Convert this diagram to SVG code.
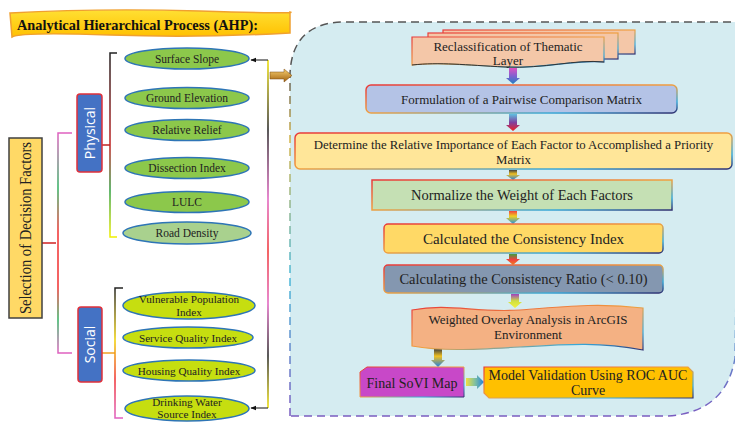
<svg xmlns="http://www.w3.org/2000/svg" width="735" height="424" viewBox="0 0 735 424">
<defs>
<linearGradient id="titleG" x1="0" y1="0" x2="0" y2="1"><stop offset="0" stop-color="#ffe033"/><stop offset="1" stop-color="#ffc000"/></linearGradient>
<linearGradient id="contStroke" gradientUnits="userSpaceOnUse" x1="0" y1="22" x2="0" y2="416"><stop offset="0" stop-color="#555"/><stop offset="0.12" stop-color="#555"/><stop offset="0.3" stop-color="#d4b44a"/><stop offset="0.65" stop-color="#4ab8d8"/><stop offset="1" stop-color="#7a5cc0"/></linearGradient>
<linearGradient id="border" x1="0" y1="0" x2="1" y2="1"><stop offset="0" stop-color="#e83a3a"/><stop offset="0.5" stop-color="#f0a040"/><stop offset="0.8" stop-color="#38a8d8"/><stop offset="1" stop-color="#303070"/></linearGradient>
<linearGradient id="arrG1" x1="0" y1="0" x2="0" y2="1"><stop offset="0" stop-color="#e050c0"/><stop offset="0.5" stop-color="#8060d0"/><stop offset="1" stop-color="#2080c0"/></linearGradient>
<linearGradient id="arrG2" x1="0" y1="0" x2="0" y2="1"><stop offset="0" stop-color="#60c0e0"/><stop offset="0.5" stop-color="#8040a0"/><stop offset="1" stop-color="#f02020"/></linearGradient>
<linearGradient id="arrG3" x1="0" y1="0" x2="0" y2="1"><stop offset="0" stop-color="#f04040"/><stop offset="0.4" stop-color="#f0d020"/><stop offset="1" stop-color="#2090e0"/></linearGradient>
<linearGradient id="arrG4" x1="0" y1="0" x2="0" y2="1"><stop offset="0" stop-color="#40a040"/><stop offset="0.5" stop-color="#f04040"/><stop offset="1" stop-color="#f08020"/></linearGradient>
<linearGradient id="arrG5" x1="0" y1="0" x2="0" y2="1"><stop offset="0" stop-color="#a040c0"/><stop offset="0.5" stop-color="#d0e040"/><stop offset="1" stop-color="#f0f040"/></linearGradient>
<linearGradient id="arrG6" x1="0" y1="0" x2="0" y2="1"><stop offset="0" stop-color="#404040"/><stop offset="0.4" stop-color="#f0c020"/><stop offset="1" stop-color="#2080e0"/></linearGradient>
<linearGradient id="arrH" x1="0" y1="0" x2="1" y2="0"><stop offset="0" stop-color="#f0e040"/><stop offset="0.5" stop-color="#80c0a0"/><stop offset="1" stop-color="#2080e0"/></linearGradient>
<linearGradient id="goldArr" x1="0" y1="0" x2="0" y2="1"><stop offset="0" stop-color="#f8d070"/><stop offset="1" stop-color="#a06010"/></linearGradient>
<linearGradient id="rightLine" gradientUnits="userSpaceOnUse" x1="0" y1="60" x2="0" y2="408"><stop offset="0" stop-color="#f0e000"/><stop offset="0.2" stop-color="#222"/><stop offset="0.4" stop-color="#e060c0"/><stop offset="0.55" stop-color="#f03030"/><stop offset="0.7" stop-color="#e060c0"/><stop offset="0.85" stop-color="#222"/><stop offset="1" stop-color="#f0e000"/></linearGradient>
<linearGradient id="braceSel" gradientUnits="userSpaceOnUse" x1="0" y1="133" x2="0" y2="353"><stop offset="0" stop-color="#e060c0"/><stop offset="0.25" stop-color="#30b060"/><stop offset="0.45" stop-color="#f03030"/><stop offset="0.7" stop-color="#f03030"/><stop offset="0.85" stop-color="#30b060"/><stop offset="1" stop-color="#e060c0"/></linearGradient>
<linearGradient id="bracePhy" gradientUnits="userSpaceOnUse" x1="0" y1="53" x2="0" y2="237"><stop offset="0" stop-color="#222"/><stop offset="0.5" stop-color="#c02020"/><stop offset="0.75" stop-color="#30a040"/><stop offset="1" stop-color="#f0f000"/></linearGradient>
<linearGradient id="braceSoc" gradientUnits="userSpaceOnUse" x1="0" y1="288" x2="0" y2="418"><stop offset="0" stop-color="#222"/><stop offset="0.4" stop-color="#f0d000"/><stop offset="0.7" stop-color="#f03030"/><stop offset="1" stop-color="#e060c0"/></linearGradient>
<marker id="ah" viewBox="0 0 10 10" refX="9" refY="5" markerWidth="6" markerHeight="6" orient="auto-start-reverse"><path d="M0,1 L10,5 L0,9 Z" fill="#111"/></marker>
<style>
.t{font-family:"Liberation Serif","Times New Roman",serif;fill:#222;text-anchor:middle}
.ep{fill:#8cc84b;stroke:#2e75b6;stroke-width:1.5}
.es{fill:#c6de10;stroke:#2e75b6;stroke-width:1.5}
.cat{fill:#4472c4;stroke:#e0303a;stroke-width:1.5}
.cl{font-family:"Open Sans","Liberation Sans",sans-serif;fill:#fff;font-size:14px;text-anchor:middle}
.bx{stroke:url(#border);stroke-width:1.5}
</style>
</defs>

<!-- Container -->
<path d="M290,416 L290,74 Q292,22 345,22 L740,22 L735,358 Q726,412 668,416 Z" fill="#d5ecf1" stroke="url(#contStroke)" stroke-width="1.5" stroke-dasharray="8 5"/>

<!-- Title -->
<g id="title">
<path d="M10,13 Q100,8 200,11 T290,12 L290,33 Q200,38 110,35 T12,37 Z" fill="url(#titleG)" stroke="#f0a030" stroke-width="1.5"/>
<text x="17" y="30" font-family="'Liberation Serif','Times New Roman',serif" font-weight="bold" font-size="15" fill="#111" textLength="241" lengthAdjust="spacingAndGlyphs">Analytical Hierarchical Process (AHP):</text>
</g>

<g id="connectors" fill="none">
<path d="M42,243 H56" stroke="#d02020" stroke-width="1.5"/>
<path d="M72,133 H58 V353 H72" stroke="url(#braceSel)" stroke-width="1.5"/>
<path d="M102,145 H110" stroke="#c02020" stroke-width="1.5"/>
<path d="M117,53 H110 V237 H117" stroke="url(#bracePhy)" stroke-width="1.5"/>
<path d="M102,353 H115" stroke="#f0a020" stroke-width="1.5"/>
<path d="M123,288 H115 V418 H123" stroke="url(#braceSoc)" stroke-width="1.5"/>
<path d="M268,60 V408" stroke="url(#rightLine)" stroke-width="1.5"/>
<path d="M268,60 H251" stroke="#111" stroke-width="1" marker-end="url(#ah)"/>
<path d="M268,408 H251" stroke="#111" stroke-width="1" marker-end="url(#ah)"/>
<polygon points="270,72 284,72 284,69 292,75.5 284,82 284,79 270,79" fill="url(#goldArr)" stroke="#7a4a10" stroke-width="0.5"/>
<polygon points="509,68 517,68 517,78 520,78 513,84 506,78 509,78" fill="url(#arrG1)"/>
<polygon points="509,114 517,114 517,125 520,125 513,131 506,125 509,125" fill="url(#arrG2)"/>
<polygon points="509,170 517,170 517,175 520,175 513,180 506,175 509,175" fill="url(#arrG6)"/>
<polygon points="509,211 517,211 517,218 520,218 513,224 506,218 509,218" fill="url(#arrG3)"/>
<polygon points="509,254 517,254 517,259 520,259 513,265 506,259 509,259" fill="url(#arrG4)"/>
<polygon points="511,294 519,294 519,302 522,302 515,308 508,302 511,302" fill="url(#arrG5)"/>
<polygon points="434,349 442,349 442,360 445,360 438,367 431,360 434,360" fill="url(#arrG6)"/>
<polygon points="466,378 477,378 477,375 484,382 477,389 477,386 466,386" fill="url(#arrH)"/>
</g>

<g id="selection">
<rect x="9" y="138" width="33" height="180" fill="#ffd966" stroke="#404040" stroke-width="1.5"/>
<text class="t" transform="translate(31,228) rotate(-90)" font-size="16" fill="#222" textLength="172" lengthAdjust="spacingAndGlyphs">Selection of Decision Factors</text>
</g>

<g id="physical">
<rect class="cat" x="77" y="94" width="25" height="78" rx="3"/>
<text class="cl" transform="translate(94.5,133) rotate(-90)">Physical</text>
</g>
<g id="social">
<rect class="cat" x="78" y="307" width="24" height="75" rx="3"/>
<text class="cl" transform="translate(95,344.5) rotate(-90)">Social</text>
</g>

<g id="surface-slope"><ellipse class="ep" cx="187" cy="58.5" rx="62" ry="10.5"/><text class="t" x="187" y="62.5" font-size="11.5">Surface Slope</text></g>
<g id="ground-elevation"><ellipse class="ep" cx="187" cy="98" rx="62" ry="10.5"/><text class="t" x="187" y="102" font-size="11.5">Ground Elevation</text></g>
<g id="relative-relief"><ellipse class="ep" cx="187" cy="130" rx="62" ry="10.5"/><text class="t" x="187" y="134" font-size="11.5">Relative Relief</text></g>
<g id="dissection-index"><ellipse class="ep" cx="187" cy="168" rx="62" ry="10.5"/><text class="t" x="187" y="172" font-size="11.5">Dissection Index</text></g>
<g id="lulc"><ellipse class="ep" cx="187" cy="202" rx="62" ry="10.5"/><text class="t" x="187" y="206" font-size="11.5">LULC</text></g>
<g id="road-density"><ellipse cx="187" cy="233" rx="64" ry="11" fill="#a9d18e" stroke="#2e75b6" stroke-width="1.5"/><text class="t" x="187" y="237" font-size="11.5">Road Density</text></g>

<g id="vulnerable-population"><ellipse class="es" cx="189" cy="305.5" rx="66" ry="13.5"/><text class="t" x="189" y="303" font-size="11.2">Vulnerable Population</text><text class="t" x="189" y="315.5" font-size="11.2">Index</text></g>
<g id="service-quality"><ellipse class="es" cx="188" cy="337.5" rx="65" ry="10.5"/><text class="t" x="188" y="341.5" font-size="11.2">Service Quality Index</text></g>
<g id="housing-quality"><ellipse class="es" cx="189" cy="370.5" rx="66" ry="10.5"/><text class="t" x="189" y="374.5" font-size="11.2">Housing Quality Index</text></g>
<g id="drinking-water"><ellipse class="es" cx="187" cy="408.5" rx="62" ry="12.5"/><text class="t" x="187" y="405.5" font-size="11.2">Drinking Water</text><text class="t" x="187" y="418" font-size="11.2">Source Index</text></g>

<g id="reclassification">
<rect x="443" y="30" width="192" height="24" fill="#f4c7a8" stroke="url(#border)" stroke-width="1.2"/>
<rect x="428" y="33" width="190" height="26" fill="#f4c7a8" stroke="url(#border)" stroke-width="1.2"/>
<path d="M412,37 H604 V62 C575,59 545,69 505,67 C465,65 440,62 412,65 Z" fill="#f4c7a8" stroke="url(#border)" stroke-width="1.2"/>
<path d="M412,65 C440,62 465,65 505,67 C545,69 575,59 604,62" fill="none" stroke="#333" stroke-width="1"/>
<text class="t" x="508" y="51" font-size="13">Reclassification of Thematic</text>
<text class="t" x="508" y="65" font-size="13">Layer</text>
</g>

<g id="pairwise">
<rect class="bx" x="366" y="85" width="311" height="28" rx="5" fill="#b4c3e6"/>
<text class="t" x="521.5" y="104" font-size="13">Formulation of a Pairwise Comparison Matrix</text>
</g>

<g id="relative-importance">
<rect class="bx" x="295" y="133" width="437" height="36" rx="5" fill="#ffe699"/>
<text class="t" x="513.5" y="149" font-size="12.8">Determine the Relative Importance of Each Factor to Accomplished  a Priority</text>
<text class="t" x="513.5" y="164" font-size="12.8">Matrix</text>
</g>

<g id="normalize">
<rect class="bx" x="372" y="180" width="300" height="30" fill="#c5e0b4"/>
<text class="t" x="522" y="200" font-size="14.5">Normalize the Weight of Each Factors</text>
</g>

<g id="consistency-index">
<rect class="bx" x="384" y="224" width="279" height="29" rx="4" fill="#ffd966"/>
<text class="t" x="523.5" y="243.5" font-size="15">Calculated the Consistency Index</text>
</g>

<g id="consistency-ratio">
<rect class="bx" x="384" y="265" width="279" height="28" rx="4" fill="#8497b0"/>
<text class="t" x="523.5" y="284" font-size="14.5">Calculating the Consistency Ratio (&lt; 0.10)</text>
</g>

<g id="weighted-overlay">
<path d="M412,310 C450,303 475,313 520,310 C570,306 600,303 643,308 V350 C600,342 570,344 520,347 C470,350 440,351 412,346 Z" fill="#f4b183" stroke="url(#border)" stroke-width="1.2"/>
<text class="t" x="528" y="324" font-size="13">Weighted Overlay Analysis in ArcGIS</text>
<text class="t" x="528" y="339" font-size="13">Environment</text>
</g>

<g id="final-sovi">
<polygon points="360,372 367,367 464,367 464,397 360,397" fill="#c848c8" stroke="url(#border)" stroke-width="1"/>
<text class="t" x="412" y="388" font-size="14">Final SoVI Map</text>
</g>

<g id="roc-validation">
<polygon points="484,367 688,367 693,372 693,398 489,398 484,393" fill="#ffc000" stroke="url(#border)" stroke-width="1.2"/>
<text class="t" x="588" y="380" font-size="14">Model Validation Using ROC AUC</text>
<text class="t" x="588" y="395" font-size="14">Curve</text>
</g>
</svg>
